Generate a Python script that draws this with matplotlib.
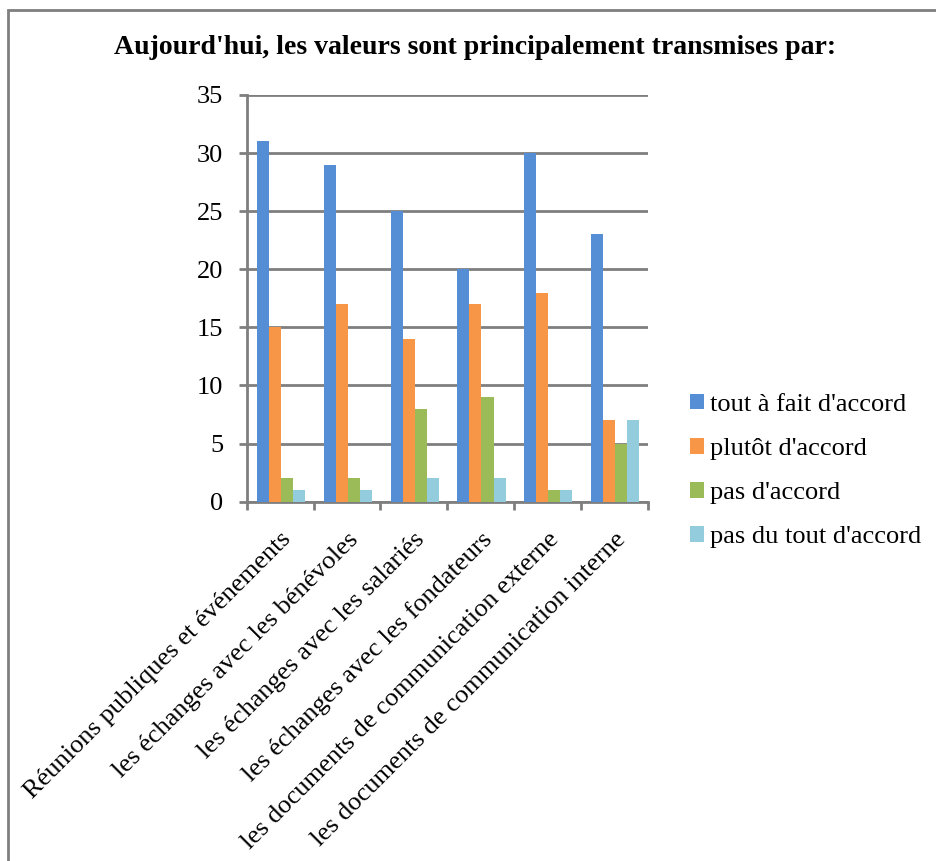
import numpy as np
import matplotlib.pyplot as plt
from matplotlib.patches import Rectangle

categories = [
    'Réunions publiques et événements',
    'les échanges avec les bénévoles',
    'les échanges avec les salariés',
    'les échanges avec les fondateurs',
    'les documents de communication externe',
    'les documents de communication interne',
]
series_names = ["tout à fait d'accord", "plutôt d'accord", "pas d'accord", "pas du tout d'accord"]
tout_a_fait = [31, 29, 25, 20, 30, 23]
plutot = [15, 17, 14, 17, 18, 7]
pas = [2, 2, 8, 9, 1, 5]
pas_du_tout = [1, 1, 2, 2, 1, 7]
yticks = [0, 5, 10, 15, 20, 25, 30, 35]

colors = ['#558ED5', '#F79646', '#9BBB59', '#93CDDD']
grey = '#7F7F7F'

plt.rcParams['font.family'] = ['Liberation Serif', 'DejaVu Serif']

fig = plt.figure(figsize=(9.36, 8.61), dpi=100)
ax = fig.add_axes([0.2636, 0.4173, 0.4287, 0.4724])

x = np.arange(len(categories))
w = 0.18
all_series = [tout_a_fait, plutot, pas, pas_du_tout]
for i, (vals, name) in enumerate(zip(all_series, series_names)):
    ax.bar(x + (i - 1.5) * w + 0.01, vals, width=w, color=colors[i],
           label=name, zorder=3, linewidth=0)

ax.set_xlim(-0.5, len(categories) - 0.5)
ax.set_ylim(0, 35)
ax.set_yticks(yticks)
ax.set_yticklabels([str(v) for v in yticks], fontsize=19)
ax.yaxis.grid(True, color=grey, linewidth=2, zorder=0)
ax.set_axisbelow(True)

ax.set_xticks(x)
ax.set_xticklabels(categories, rotation=45, ha='right',
                   rotation_mode='anchor', fontsize=19)
ax.set_xticks(np.arange(-0.5, len(categories)), minor=True)
ax.tick_params(axis='x', which='major', length=0, pad=19)
ax.tick_params(axis='x', which='minor', length=6, width=2, color=grey)
ax.tick_params(axis='y', length=6, width=2, color=grey, pad=11)

for side in ['top', 'right']:
    ax.spines[side].set_visible(False)
for side in ['left', 'bottom']:
    ax.spines[side].set_color(grey)
    ax.spines[side].set_linewidth(2)

fig.suptitle("Aujourd'hui, les valeurs sont principalement transmises par:",
             x=0.508, y=1 - 48 / 861, va='center', fontsize=20, fontweight='bold')

fig.legend(loc='center left', bbox_to_anchor=(0.737, 0.453), frameon=False,
           fontsize=19, handlelength=0.55, handleheight=0.55, handletextpad=0.2,
           labelspacing=0.83, borderpad=0, borderaxespad=0)

# border of the chart area
fig.patches.append(Rectangle((8 / 936, -0.1), 1.2, 1.1 - 10 / 861,
                             transform=fig.transFigure, fill=False,
                             edgecolor=grey, linewidth=2))

fig.savefig('out.png', dpi=100)
